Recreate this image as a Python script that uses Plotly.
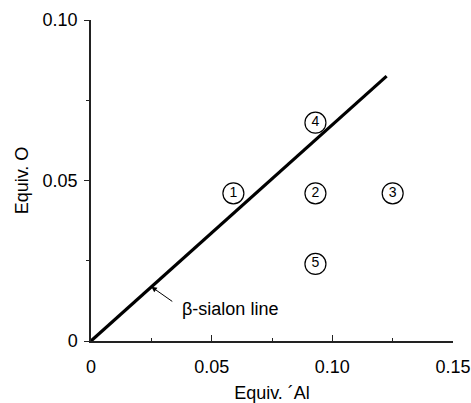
import plotly.graph_objects as go

# Data
line_x = [0.0, 0.1225]
line_y = [0.0, 0.0825]

point_labels = ["1", "2", "3", "4", "5"]
point_x = [0.059, 0.093, 0.125, 0.093, 0.093]
point_y = [0.046, 0.046, 0.046, 0.068, 0.024]

x_tickvals = [0, 0.05, 0.10, 0.15]
x_ticktext = ["0", "0.05", "0.10", "0.15"]
y_tickvals = [0, 0.05, 0.10]
y_ticktext = ["0", "0.05", "0.10"]

arrow_head = (0.0250, 0.0169)
arrow_tail = (0.0343, 0.0120)
line_label = "β-sialon line"
label_pos = (0.0367, 0.0101)

FONT = "Liberation Sans, Arial, Helvetica, sans-serif"

fig = go.Figure()
fig.add_trace(go.Scatter(
    x=line_x, y=line_y, mode="lines",
    line=dict(color="black", width=3.2),
    showlegend=False, hoverinfo="skip",
))
fig.add_trace(go.Scatter(
    x=point_x, y=point_y, mode="markers+text",
    text=point_labels, textposition="middle center",
    textfont=dict(family=FONT, size=14, color="black"),
    marker=dict(symbol="circle", size=21, color="white",
                line=dict(color="black", width=1.2)),
    showlegend=False, cliponaxis=False,
))

fig.add_annotation(
    x=arrow_head[0], y=arrow_head[1], ax=arrow_tail[0], ay=arrow_tail[1],
    xref="x", yref="y", axref="x", ayref="y",
    text="", showarrow=True, arrowhead=2, arrowsize=1.1, arrowwidth=1,
    arrowcolor="black",
)
fig.add_annotation(
    x=label_pos[0], y=label_pos[1], xref="x", yref="y",
    text=line_label, showarrow=False, xanchor="left", yanchor="middle",
    font=dict(family=FONT, size=18, color="black"),
)

axis_common = dict(
    showgrid=False, zeroline=False, showline=True,
    linecolor="#222", linewidth=1.5, tickcolor="#222", tickwidth=1.2,
    tickfont=dict(family=FONT, size=18, color="black"),
    automargin=False,
)

fig.update_layout(
    width=471, height=403,
    margin=dict(l=91, r=18, t=20, b=62),
    paper_bgcolor="white", plot_bgcolor="white",
    font=dict(family=FONT, size=18, color="black"),
    xaxis=dict(
        range=[0, 0.15], tickvals=x_tickvals, ticktext=x_ticktext,
        ticks="inside", ticklen=6, ticklabelstandoff=9,
        minor=dict(dtick=0.025, ticks="inside", ticklen=3, tickcolor="#222"),
        title=dict(text="Equiv. ´Al", font=dict(family=FONT, size=18), standoff=12),
        **axis_common,
    ),
    yaxis=dict(
        range=[0, 0.10], tickvals=y_tickvals, ticktext=y_ticktext,
        ticks="outside", ticklen=5, ticklabelstandoff=3,
        minor=dict(dtick=0.025, ticks="outside", ticklen=3, tickcolor="#222"),
        title=dict(text="Equiv. O", font=dict(family=FONT, size=18), standoff=9),
        **axis_common,
    ),
)

# Remove the default page margin so the 471x403 figure fills the window exactly.
fig.write_html(
    "out.html",
    config={"displayModeBar": False},
    post_script="document.body.style.margin='0';document.body.style.overflow='hidden';",
)
